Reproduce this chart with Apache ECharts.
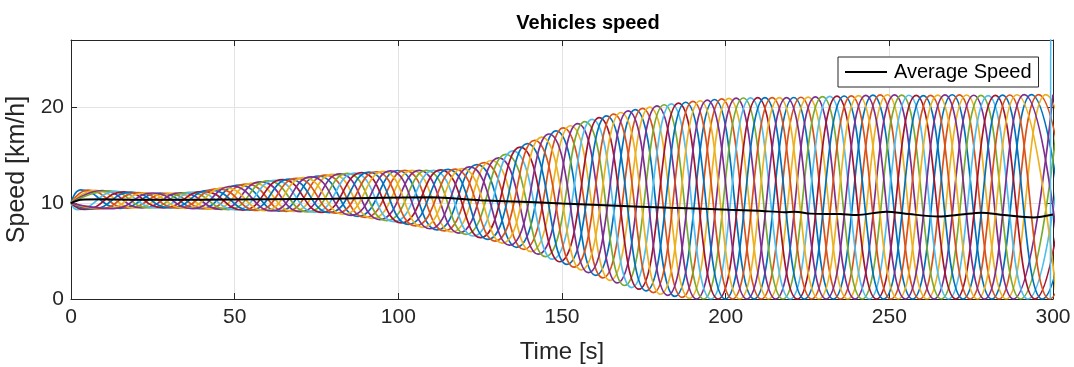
<!DOCTYPE html>
<html><head><meta charset="utf-8">
<script src="https://cdn.jsdelivr.net/npm/echarts@6/dist/echarts.min.js"></script>
<style>html,body{margin:0;padding:0;background:#fff}#c{width:1074px;height:367px}</style>
</head><body><div id="c"></div>
<script>
// ---- data ----
const xTicks = [0, 50, 100, 150, 200, 250, 300];
const yTicks = [0, 10, 20];
// envelope of the vehicle oscillations (km/h) at these times (s)
const envTimes = [0,10,20,30,40,50,60,70,80,90,100,110,120,130,140,150,160,170,180,190,200,210,220,230,240,250,260,270,280,290,300];
const upperEnv = [11.4,11.3,11.1,11.0,11.2,11.8,12.3,12.6,13.0,13.2,13.4,13.4,13.6,14.6,16.3,17.8,18.8,19.6,20.2,20.6,20.9,21.0,21.0,21.1,21.2,21.3,21.2,21.3,21.2,21.3,21.3];
const lowerEnv = [9.3,9.4,9.5,9.5,9.4,9.3,9.2,9.1,9.0,8.5,8.0,7.3,6.8,6.0,5.0,3.8,2.5,1.3,0.5,0,0,0,0,0,0,0,0,0,0,0,0];
// wave parameters
const vehicleCount = 11;
const waveLag = 2.2;        // s between successive vehicles' peaks
const firstPeak = 3;        // s, first peak of vehicle 0
const startSpeed = 10;
// average speed (black line)
const avgTimes = [0,3,10,20,40,60,80,95,110,125,140,150,165,183,193,201,210,218,221,226,235,240,249,256,265,272,278,285,294,300];
const avgSpeed = [10.0,10.35,10.4,10.35,10.35,10.4,10.45,10.55,10.6,10.3,10.1,9.95,9.75,9.5,9.4,9.3,9.2,9.05,9.1,8.9,8.85,8.75,9.1,8.85,8.6,8.8,9.0,8.75,8.5,8.8];
// stray final sample of the last vehicle (vertical spike at the right edge)
const tailTimes = [299.2, 299.3];
const tailSpeed = [0, 30];

const COLORS = ['#0072BD','#D95319','#EDB120','#7E2F8E','#77AC30','#4DBEEE','#A2142F'];
const FONT = '"Liberation Sans",Arial,sans-serif';

function envAt(arr, t) {
  if (t <= envTimes[0]) return arr[0];
  for (let i = 1; i < envTimes.length; i++) {
    if (t <= envTimes[i]) {
      const f = (t - envTimes[i-1]) / (envTimes[i] - envTimes[i-1]);
      return arr[i-1] + f * (arr[i] - arr[i-1]);
    }
  }
  return arr[arr.length - 1];
}

const period = vehicleCount * waveLag;
const series = [];
for (let v = 0; v < vehicleCount; v++) {
  let base = firstPeak + v * waveLag;
  while (base - period / 2 > 0.8) base -= period;
  const pts = [[0, startSpeed]];
  for (let k = 0; ; k++) {
    const t = base + k * period / 2;
    if (t < 0.8) continue;
    const peak = (k % 2 === 0);
    pts.push([t, peak ? envAt(upperEnv, t) : envAt(lowerEnv, t)]);
    if (t > 300) break;
  }
  series.push({
    type: 'line', name: 'v' + v, data: pts, smooth: 0.5, symbol: 'none',
    lineStyle: { color: COLORS[v % 7], width: 1.7 }, itemStyle: { color: COLORS[v % 7] },
    clip: true, silent: true, animation: false, z: 2
  });
}
series.push({
  type: 'line', name: 'tail', data: tailTimes.map((t, i) => [t, tailSpeed[i]]), symbol: 'none',
  lineStyle: { color: COLORS[5], width: 1.5 }, clip: true, animation: false, z: 3
});
series.push({
  type: 'line', name: 'Average Speed', data: avgTimes.map((t, i) => [t, avgSpeed[i]]),
  smooth: 0.3, symbol: 'none', lineStyle: { color: '#000', width: 2 }, itemStyle: { color: '#000' },
  clip: true, animation: false, z: 5
});

const axisCol = '#262626';
const gridCol = '#e3e3e3';
const chart = echarts.init(document.getElementById('c'), null, { renderer: 'canvas' });
chart.setOption({
  animation: false,
  backgroundColor: '#fff',
  title: { text: 'Vehicles speed', left: 583, textAlign: 'center', top: 8,
    textStyle: { fontFamily: FONT, fontWeight: 'bold', fontSize: 20, color: '#000' } },
  legend: { data: [{ name: 'Average Speed', icon: 'rect' }], left: 838, top: 57, orient: 'vertical',
    backgroundColor: '#fff', borderColor: axisCol, borderWidth: 1, borderRadius: 0, padding: [5, 7, 5, 7],
    itemWidth: 42, itemHeight: 2, itemGap: 4,
    itemStyle: { color: '#000' },
    textStyle: { fontFamily: FONT, fontSize: 20, color: '#000', padding: [0, 0, 0, 2] } },
  grid: { left: 71, right: 21, top: 40, bottom: 68, show: false, containLabel: false, outerBoundsMode: 'none' },
  xAxis: [{
    type: 'value', min: xTicks[0], max: xTicks[xTicks.length-1], interval: xTicks[1] - xTicks[0],
    name: 'Time [s]', nameLocation: 'middle', nameGap: 41,
    nameTextStyle: { fontFamily: FONT, fontSize: 24, color: axisCol },
    axisLine: { show: true, onZero: false, lineStyle: { color: axisCol, width: 1 } },
    axisTick: { show: true, inside: true, length: 6, lineStyle: { color: axisCol } },
    axisLabel: { fontFamily: FONT, fontSize: 21, color: axisCol, margin: 8 },
    splitLine: { show: true, lineStyle: { color: gridCol, width: 1 } }
  }, {
    type: 'value', position: 'top', min: xTicks[0], max: xTicks[xTicks.length-1], interval: xTicks[1] - xTicks[0],
    axisLine: { show: true, onZero: false, lineStyle: { color: axisCol, width: 1 } },
    axisTick: { show: true, inside: true, length: 6, lineStyle: { color: axisCol } },
    axisLabel: { show: false }, splitLine: { show: false }
  }],
  yAxis: [{
    type: 'value', min: 0, max: 27, interval: yTicks[1] - yTicks[0],
    name: 'Speed [km/h]', nameLocation: 'middle', nameGap: 24, nameRotate: 90,
    nameTextStyle: { fontFamily: FONT, fontSize: 25, color: axisCol },
    axisLine: { show: true, onZero: false, lineStyle: { color: axisCol, width: 1 } },
    axisTick: { show: true, inside: true, length: 6, lineStyle: { color: axisCol } },
    axisLabel: { fontFamily: FONT, fontSize: 21, color: axisCol, margin: 7, showMaxLabel: false },
    splitLine: { show: true, lineStyle: { color: gridCol, width: 1 } }
  }, {
    type: 'value', position: 'right', min: 0, max: 27, interval: yTicks[1] - yTicks[0],
    axisLine: { show: true, onZero: false, lineStyle: { color: axisCol, width: 1 } },
    axisTick: { show: true, inside: true, length: 6, lineStyle: { color: axisCol } },
    axisLabel: { show: false }, splitLine: { show: false }
  }],
  series: series
});
</script></body></html>
